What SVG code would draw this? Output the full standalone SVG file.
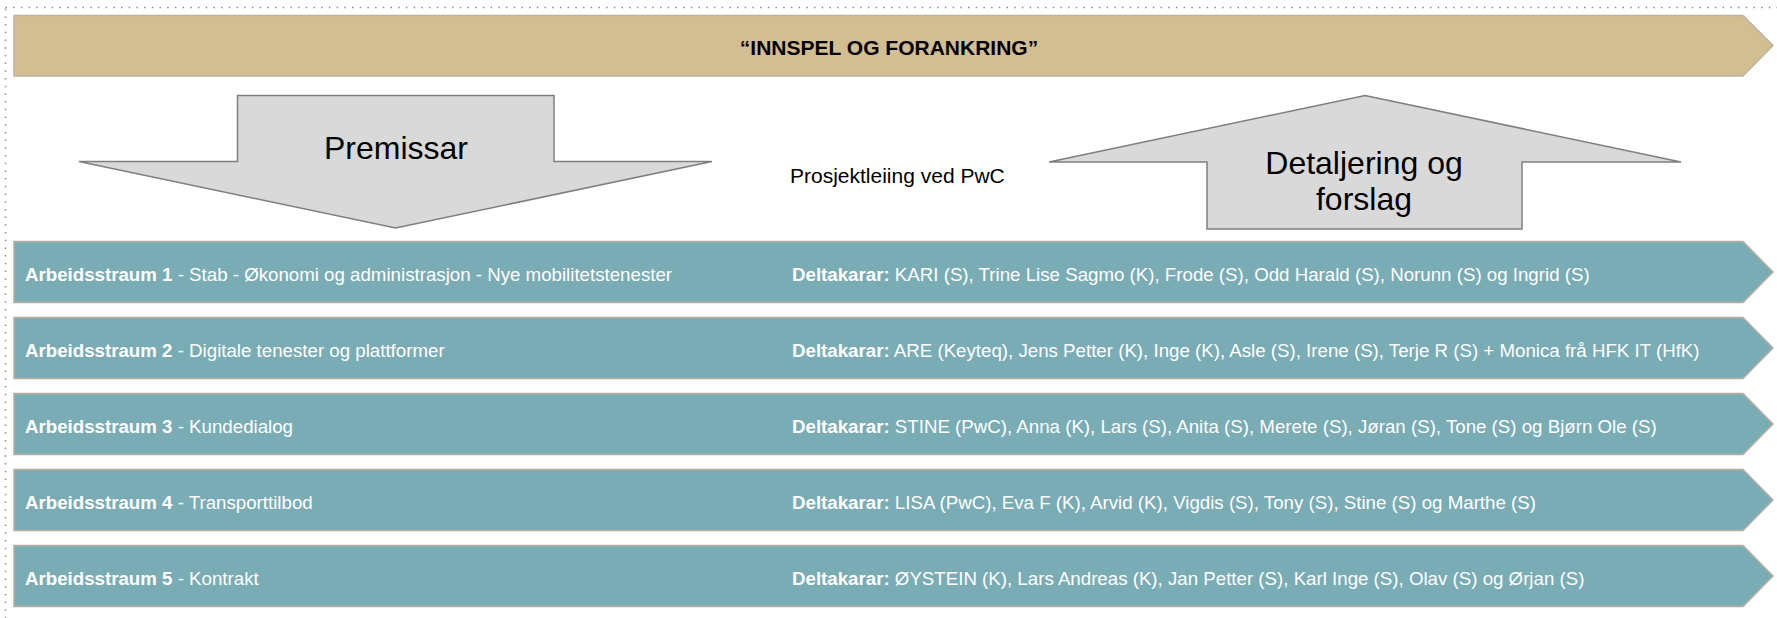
<svg xmlns="http://www.w3.org/2000/svg" width="1777" height="618" viewBox="0 0 1777 618">
<style>
.frame{fill:none;stroke:#8c8c8c;stroke-width:1.5;stroke-dasharray:1.5 6.2}
.banner{fill:#D3BE92;stroke:#BDB3A6;stroke-width:1.5}
.row{fill:#7AACB5;stroke:#B9AEA1;stroke-width:1.5}
.arrow{fill:#D9D9D9;stroke:#7F7F7F;stroke-width:1.5}
.title{font-family:"Liberation Sans",Arial,sans-serif;font-weight:bold;font-size:21px;fill:#000;text-anchor:middle}
.big{font-family:"Liberation Sans",Arial,sans-serif;font-size:32px;fill:#000;text-anchor:middle}
.note{font-family:"Liberation Sans",Arial,sans-serif;font-size:21px;fill:#000}
.rt{font-family:"Liberation Sans",Arial,sans-serif;font-size:18.7px;fill:#fff}
.b{font-weight:bold}
</style>
<rect class="frame" x="5.5" y="7.5" width="1800" height="700"/>
<g id="banner">
<polygon class="banner" points="14,15.5 1743,15.5 1773,45.5 1743,76 14,76"/>
<text class="title" x="889" y="55">“INNSPEL OG FORANKRING”</text>
</g>
<g id="premissar">
<polygon class="arrow" points="237.5,95.5 554,95.5 554,161.5 712,161.5 395.5,228 79,161.5 237.5,161.5"/>
<text class="big" x="396" y="159">Premissar</text>
</g>
<g id="prosjektleiing">
<text class="note" x="790" y="183">Prosjektleiing ved PwC</text>
</g>
<g id="detaljering">
<polygon class="arrow" points="1365,95.5 1681,162 1522,162 1522,229 1207,229 1207,162 1049,162"/>
<text class="big" x="1364" y="174">Detaljering og</text>
<text class="big" x="1364" y="210">forslag</text>
</g>
<g id="stream1">
<polygon class="row" points="14,241.5 1743,241.5 1773,272 1743,302.5 14,302.5"/>
<text class="rt" x="25" y="280.5"><tspan class="b">Arbeidsstraum 1</tspan> - Stab - Økonomi og administrasjon - Nye mobilitetstenester</text>
<text class="rt" x="792" y="280.5"><tspan class="b">Deltakarar:</tspan> KARI (S), Trine Lise Sagmo (K), Frode (S), Odd Harald (S), Norunn (S) og Ingrid (S)</text>
</g>
<g id="stream2">
<polygon class="row" points="14,317.5 1743,317.5 1773,348 1743,378.5 14,378.5"/>
<text class="rt" x="25" y="356.5"><tspan class="b">Arbeidsstraum 2</tspan> - Digitale tenester og plattformer</text>
<text class="rt" x="792" y="356.5"><tspan class="b">Deltakarar:</tspan> ARE (Keyteq), Jens Petter (K), Inge (K), Asle (S), Irene (S), Terje R (S) + Monica frå HFK IT (HfK)</text>
</g>
<g id="stream3">
<polygon class="row" points="14,393.5 1743,393.5 1773,424 1743,454.5 14,454.5"/>
<text class="rt" x="25" y="432.5"><tspan class="b">Arbeidsstraum 3</tspan> - Kundedialog</text>
<text class="rt" x="792" y="432.5"><tspan class="b">Deltakarar:</tspan> STINE (PwC), Anna (K), Lars (S), Anita (S), Merete (S), Jøran (S), Tone (S) og Bjørn Ole (S)</text>
</g>
<g id="stream4">
<polygon class="row" points="14,469.5 1743,469.5 1773,500 1743,530.5 14,530.5"/>
<text class="rt" x="25" y="508.5"><tspan class="b">Arbeidsstraum 4</tspan> - Transporttilbod</text>
<text class="rt" x="792" y="508.5"><tspan class="b">Deltakarar:</tspan> LISA (PwC), Eva F (K), Arvid (K), Vigdis (S), Tony (S), Stine (S) og Marthe (S)</text>
</g>
<g id="stream5">
<polygon class="row" points="14,545.5 1743,545.5 1773,576 1743,606.5 14,606.5"/>
<text class="rt" x="25" y="584.5"><tspan class="b">Arbeidsstraum 5</tspan> - Kontrakt</text>
<text class="rt" x="792" y="584.5"><tspan class="b">Deltakarar:</tspan> ØYSTEIN (K), Lars Andreas (K), Jan Petter (S), Karl Inge (S), Olav (S) og Ørjan (S)</text>
</g>
<g id="connectors"></g>
</svg>
